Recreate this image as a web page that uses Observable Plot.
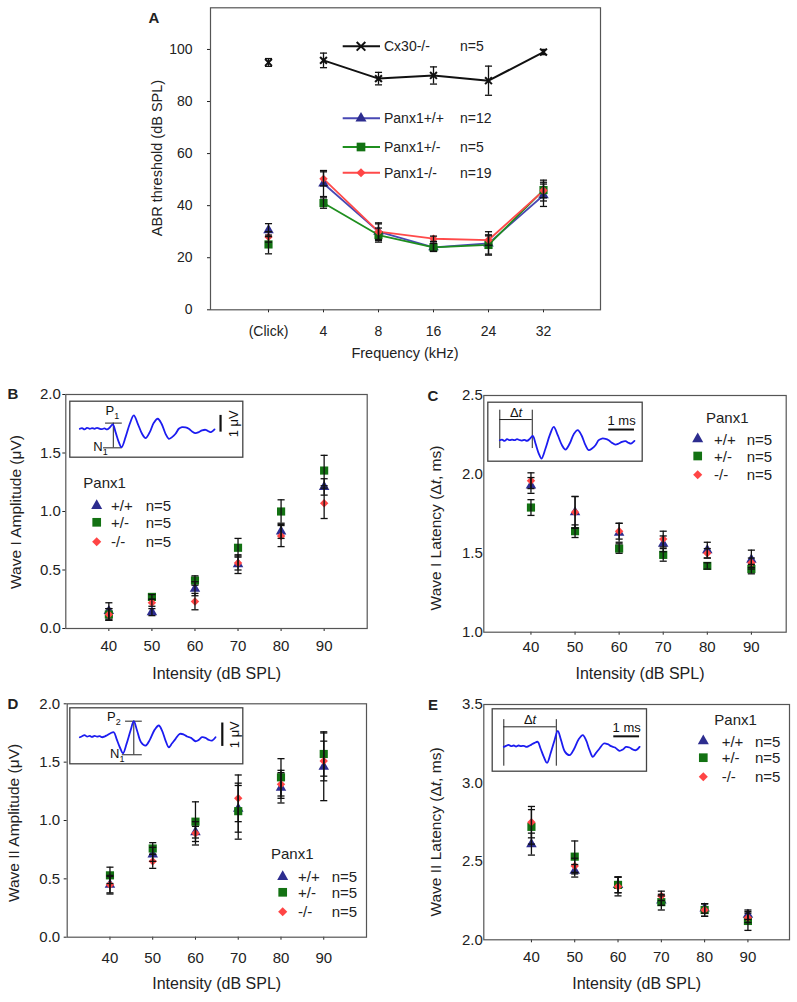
<!DOCTYPE html>
<html><head><meta charset="utf-8">
<script src="https://cdn.jsdelivr.net/npm/d3@7"></script>
<script src="https://cdn.jsdelivr.net/npm/@observablehq/plot@0.6"></script>
<style>
body{margin:0;background:#fff;}
#fig{position:relative;width:797px;height:1002px;overflow:hidden;background:#fff;}
#fig svg{position:absolute;left:0;top:0;overflow:visible;}
</style></head><body><div id="fig"></div>
<script>
// ---------------- DATA ----------------
// Panel A: ABR thresholds (dB SPL)
const freqLabels = ["(Click)", "4", "8", "16", "24", "32"];
const aYTicks = [0, 20, 40, 60, 80, 100];
const aGroupLabels = ["Cx30-/-", "Panx1+/+", "Panx1+/-", "Panx1-/-"];
const aNLabels = ["n=5", "n=12", "n=5", "n=19"];
const aCx30 = [95, 95.8, 88.8, 90, 88, 99];
const aCx30Err = [1.5, 2.8, 2.4, 3.3, 5.6, 1];
const aWT = [30.6, 48.5, 30, 24, 25.5, 44];
const aWTErr = [2.5, 5, 3, 1.6, 4.5, 4.3];
const aHet = [25.1, 41, 28.7, 24, 24.9, 46];
const aHetErr = [3.6, 2, 2.7, 1.5, 3.5, 3];
const aKO = [28, 50.3, 30, 27.3, 26.8, 45.8];
const aKOErr = [2, 2.7, 3.4, 1, 2, 4];

// Panels B–E: x = intensity (dB SPL)
const intensity = [40, 50, 60, 70, 80, 90];
const genoLabels = ["+/+", "+/-", "-/-"];
const genoN = ["n=5", "n=5", "n=5"];

// B: Wave I amplitude (uV)
const bWT = [0.15, 0.14, 0.34, 0.55, 0.83, 1.21];
const bWTErr = [0.07, 0.03, 0.06, 0.08, 0.06, 0.07];
const bHet = [0.12, 0.27, 0.41, 0.69, 1.0, 1.35];
const bHetErr = [0.05, 0.02, 0.04, 0.08, 0.1, 0.13];
const bKO = [0.12, 0.22, 0.23, 0.56, 0.79, 1.07];
const bKOErr = [0.05, 0.03, 0.07, 0.06, 0.09, 0.13];

// C: Wave I latency (ms)
const cWT = [1.93, 1.76, 1.63, 1.56, 1.52, 1.46];
const cWTErr = [0.05, 0.1, 0.06, 0.05, 0.05, 0.06];
const cHet = [1.79, 1.64, 1.53, 1.49, 1.42, 1.40];
const cHetErr = [0.05, 0.04, 0.03, 0.04, 0.02, 0.03];
const cKO = [1.96, 1.76, 1.64, 1.59, 1.50, 1.44];
const cKOErr = [0.05, 0.1, 0.05, 0.05, 0.03, 0.03];

// D: Wave II amplitude (uV)
const dWT = [0.45, 0.71, 0.9, 1.1, 1.28, 1.46];
const dWTErr = [0.07, 0.06, 0.05, 0.2, 0.13, 0.29];
const dHet = [0.53, 0.76, 0.99, 1.08, 1.37, 1.57];
const dHetErr = [0.07, 0.05, 0.17, 0.24, 0.16, 0.19];
const dKO = [0.45, 0.65, 0.89, 1.19, 1.31, 1.51];
const dKOErr = [0.08, 0.06, 0.1, 0.2, 0.12, 0.17];

// E: Wave II latency (ms)
const eWT = [2.61, 2.44, 2.35, 2.25, 2.2, 2.16];
const eWTErr = [0.07, 0.04, 0.05, 0.03, 0.03, 0.03];
const eHet = [2.72, 2.53, 2.35, 2.24, 2.19, 2.12];
const eHetErr = [0.11, 0.1, 0.05, 0.05, 0.04, 0.06];
const eKO = [2.75, 2.47, 2.34, 2.28, 2.19, 2.14];
const eKOErr = [0.1, 0.05, 0.06, 0.03, 0.04, 0.03];

// Inset waveforms (time in ms, voltage in uV)
const waveI_t = [0,0.09,0.19,0.29,0.4,0.49,0.59,0.69,0.8,0.89,0.99,1.09,1.2,1.32,1.43,1.56,1.67,1.83,2.0,2.16,2.32,2.49,2.63,2.8,2.96,3.12,3.27,3.43,3.56,3.69,3.83,3.96,4.09,4.23,4.36,4.49,4.63,4.76,4.89,5.03,5.16,5.25,5.39];
const waveI_v = [0,0.04,-0.04,0.06,0,0.04,0,0.06,0,-0.02,0.02,-0.04,0.08,0.26,-0.2,-0.8,-1.1,-0.5,0.3,0.8,0.3,-0.3,-0.56,-0.2,0.36,0.6,0.3,-0.3,-0.6,-0.5,-0.3,0,0.1,0.08,0,-0.16,-0.26,-0.2,-0.1,-0.06,-0.16,-0.2,-0.04];
const waveII_t = [0,0.09,0.19,0.29,0.4,0.49,0.59,0.69,0.8,0.89,0.99,1.09,1.23,1.36,1.47,1.6,1.73,1.87,2.03,2.16,2.29,2.45,2.63,2.8,2.99,3.16,3.29,3.43,3.56,3.69,3.83,4.0,4.16,4.29,4.45,4.63,4.76,4.89,5.03,5.16,5.29,5.43];
const waveII_v = [0,0.06,0.12,0.04,0.08,0.02,0.08,0.04,0.06,0,0.04,0.12,0.24,0.3,-0.1,-0.6,-0.96,-0.4,0.4,0.96,0.4,-0.3,-0.5,-0.16,0.44,0.7,0.4,-0.2,-0.6,-0.36,-0.1,0.2,0.16,0.04,-0.04,-0.24,-0.16,0,-0.04,-0.16,-0.2,0];

// Inset annotation values
const bPeakLevels = [0.34, -1.14];      // P1, N1 (uV)
const bPeakSpans = [[1.03, 1.7], [0.95, 1.7]];
const bPeakT = 1.34;
const bScaleBar = [5.63, -0.2, 0.8];   // t, v1, v2 (1 uV)
const dPeakLevels = [0.96, -1.05];     // P2, N1
const dPeakSpans = [[1.83, 2.5], [1.7, 2.5]];
const dPeakT = 2.16;
const dScaleBar = [5.7, -0.55, 0.85];
const cDelta = [0, 1.3];               // onset, P1 time (ms)
const eDelta = [0, 2.1];               // onset, P2 time (ms)
const msBar = 1.03;                    // 1 ms bar length

// ---------------- STYLE ----------------
const FONT = '"Liberation Sans", Arial, Helvetica, sans-serif';
const W = 797, H = 1002;
const ST = {
  cx:  {symbol: "times",    color: "#111111", line: "#111111", r: 3.2, lr: 4},
  wt:  {symbol: "triangle", color: "#2d2d8f", line: "#4848b4", r: 3.9, lr: 4.1},
  het: {symbol: "square",   color: "#137213", line: "#1f8f1f", r: 4.6, lr: 4.9},
  ko:  {symbol: "diamond2", color: "#ff4545", line: "#ff4a4a", r: 3.8, lr: 4.1}
};
const WAVE = "#1c1cf0";
const capSym = {draw(ctx, size) { const w = Math.sqrt(size) / 2; ctx.moveTo(-w, 0); ctx.lineTo(w, 0); }};
const d3Sym = {triangle: d3.symbolTriangle, square: d3.symbolSquare, diamond2: d3.symbolDiamond2, times: d3.symbolTimes};

const fig = document.getElementById("fig");
function add(node) { fig.appendChild(node); return node; }

function rowsOf(xs, vals, errs) { return xs.map((x, i) => ({x, y: vals[i], e: errs[i]})); }

function errPanel(cfg) {
  const lines = [], dots = [], bars = [];
  cfg.series.forEach(s => {
    const rows = rowsOf(cfg.xs, s.v, s.e);
    if (cfg.withLines) {
      lines.push(Plot.line(rows.filter(d => d.x !== "(Click)"), {x: "x", y: "y", stroke: s.st.line, strokeWidth: s.st === ST.cx ? 2 : 1.8}));
    }
    if (s.st.symbol === "times") {
      dots.push(Plot.dot(rows, {x: "x", y: "y", symbol: "times", stroke: s.st.color, fill: "none", strokeWidth: 2, r: s.st.r}));
    } else {
      dots.push(Plot.dot(rows, {x: "x", y: "y", symbol: s.st.symbol, fill: s.st.color, stroke: "none", r: s.st.r}));
    }
    bars.push(Plot.ruleX(rows, {x: "x", y1: d => d.y - d.e, y2: d => d.y + d.e, stroke: "#111", strokeWidth: 1.3}));
    bars.push(Plot.dot(rows, {x: "x", y: d => d.y + d.e, symbol: capSym, stroke: "#111", fill: "none", strokeWidth: 1.3, r: 4}));
    bars.push(Plot.dot(rows, {x: "x", y: d => d.y - d.e, symbol: capSym, stroke: "#111", fill: "none", strokeWidth: 1.3, r: 4}));
  });
  const f = cfg.frame;
  return Plot.plot({
    width: W, height: H,
    marginLeft: f[0], marginTop: f[1], marginRight: W - f[2], marginBottom: H - f[3],
    style: {fontFamily: FONT, fontSize: cfg.fontSize, color: "#222", background: "none", overflow: "visible"},
    x: cfg.x, y: cfg.y,
    marks: [Plot.frame({stroke: "#555", strokeWidth: 1.2}), ...lines, ...dots, ...bars]
  });
}

// Panel A
add(errPanel({
  frame: [210, 7.3, 600, 309.3], fontSize: "14px", withLines: true, xs: freqLabels,
  x: {type: "point", domain: freqLabels, padding: 1, tickSize: 3, tickPadding: 13, label: null},
  y: {domain: [0, 116], ticks: aYTicks, tickSize: 3, tickPadding: 15, label: null},
  series: [
    {v: aCx30, e: aCx30Err, st: ST.cx},
    {v: aWT, e: aWTErr, st: ST.wt},
    {v: aHet, e: aHetErr, st: ST.het},
    {v: aKO, e: aKOErr, st: ST.ko}
  ]
}));

const fmt1 = d3.format(".1f");
// Panel B
add(errPanel({
  frame: [65.3, 394, 366.7, 628], fontSize: "15px", xs: intensity,
  x: {domain: [30, 100], ticks: intensity, tickSize: 3, tickPadding: 9, label: null},
  y: {domain: [0, 2], ticks: [0, 0.5, 1, 1.5, 2], tickFormat: fmt1, tickSize: 3, tickPadding: 2, label: null},
  series: [{v: bWT, e: bWTErr, st: ST.wt}, {v: bHet, e: bHetErr, st: ST.het}, {v: bKO, e: bKOErr, st: ST.ko}]
}));
// Panel C
add(errPanel({
  frame: [483.3, 395, 785.7, 631.7], fontSize: "15px", xs: intensity,
  x: {domain: [29.3, 97.9], ticks: intensity, tickSize: 3, tickPadding: 6, label: null},
  y: {domain: [1, 2.5], ticks: [1, 1.5, 2, 2.5], tickFormat: fmt1, tickSize: 0, tickPadding: 1, label: null},
  series: [{v: cWT, e: cWTErr, st: ST.wt}, {v: cHet, e: cHetErr, st: ST.het}, {v: cKO, e: cKOErr, st: ST.ko}]
}));
// Panel D
add(errPanel({
  frame: [66.7, 703.3, 366, 936.7], fontSize: "15px", xs: intensity,
  x: {domain: [30, 100], ticks: intensity, tickSize: 3, tickPadding: 12, label: null},
  y: {domain: [0, 2], ticks: [0, 0.5, 1, 1.5, 2], tickFormat: fmt1, tickSize: 3, tickPadding: 4, label: null},
  series: [{v: dWT, e: dWTErr, st: ST.wt}, {v: dHet, e: dHetErr, st: ST.het}, {v: dKO, e: dKOErr, st: ST.ko}]
}));
// Panel E
add(errPanel({
  frame: [483.3, 704, 789, 939.3], fontSize: "15px", xs: intensity,
  x: {domain: [29, 99.6], ticks: intensity, tickSize: 3, tickPadding: 9, label: null},
  y: {domain: [2, 3.5], ticks: [2, 2.5, 3, 3.5], tickFormat: fmt1, tickSize: 0, tickPadding: 1, label: null},
  series: [{v: eWT, e: eWTErr, st: ST.wt}, {v: eHet, e: eHetErr, st: ST.het}, {v: eKO, e: eKOErr, st: ST.ko}]
}));

// ---------------- INSETS ----------------
function insetPlot(box, xd, yd, ts, vs, extra) {
  const wave = ts.map((t, i) => ({t, v: vs[i]}));
  return Plot.plot({
    width: W, height: H,
    marginLeft: box[0], marginTop: box[1], marginRight: W - box[2], marginBottom: H - box[3],
    style: {fontFamily: FONT, fontSize: "13px", color: "#111", background: "none", overflow: "visible"},
    x: {domain: xd, axis: null}, y: {domain: yd, axis: null},
    marks: [
      Plot.frame({stroke: "#444", strokeWidth: 1.3, fill: "white"}),
      ...extra,
      Plot.line(wave, {x: "t", y: "v", stroke: WAVE, strokeWidth: 1.8, curve: "catmull-rom"})
    ]
  });
}
function ampMarks(levels, spans, tPk, bar, labels, labelPos) {
  return [
    Plot.ruleY(levels, {y: d => d, x1: (d, i) => spans[i][0], x2: (d, i) => spans[i][1], stroke: "#222", strokeWidth: 1}),
    Plot.ruleX([tPk], {x: d => d, y1: levels[1], y2: levels[0], stroke: "#222", strokeWidth: 1}),
    Plot.ruleX([bar[0]], {x: d => d, y1: bar[1], y2: bar[2], stroke: "#111", strokeWidth: 2.2}),
    Plot.text(labels, {x: (d, i) => labelPos[i][0], y: (d, i) => labelPos[i][1], text: d => d, textAnchor: (d, i) => labelPos[i][2], fill: "#111", fontSize: 13}),
    Plot.text(["1 μV"], {x: bar[0] + 0.52, y: (bar[1] + bar[2]) / 2, text: d => d, rotate: -90, fill: "#111", fontSize: 13})
  ];
}
function latMarks(delta, top, bottom, level, barT, barV) {
  return [
    Plot.ruleX(delta, {x: d => d, y1: bottom, y2: top, stroke: "#222", strokeWidth: 1}),
    Plot.ruleY([level], {y: d => d, x1: delta[0], x2: delta[1], stroke: "#222", strokeWidth: 1}),
    Plot.text(["Δt"], {x: (delta[0] + delta[1]) / 2, y: level, dy: -7, text: d => d, fill: "#111", fontSize: 13}),
    Plot.ruleY([barV], {y: d => d, x1: barT, x2: barT + msBar, stroke: "#111", strokeWidth: 2}),
    Plot.text(["1 ms"], {x: barT + msBar / 2, y: barV, dy: -9, text: d => d, fill: "#111", fontSize: 13})
  ];
}

add(insetPlot([69.3, 400.7, 242.3, 456.7], [-0.4, 6.52], [-1.7, 1.65], waveI_t, waveI_v,
  ampMarks(bPeakLevels, bPeakSpans, bPeakT, bScaleBar, ["P1", "N1"], [[1.3, 1.1, "middle"], [0.83, -1.1, "end"]])));
add(insetPlot([487.3, 401.7, 641.7, 460.7], [-0.48, 5.7], [-1.26, 2.28], waveI_t, waveI_v,
  latMarks(cDelta, 1.8, -0.5, 1.24, 4.36, 0.64)));
add(insetPlot([69.3, 707.3, 242.3, 763.3], [-0.4, 6.52], [-1.59, 1.76], waveII_t, waveII_v,
  ampMarks(dPeakLevels, dPeakSpans, dPeakT, dScaleBar, ["P2", "N1"], [[1.36, 1.2, "middle"], [1.5, -1.0, "end"]])));
add(insetPlot([491.7, 708.3, 646, 770.7], [-0.464, 5.708], [-1.46, 2.28], waveII_t, waveII_v,
  latMarks(eDelta, 1.63, -1.16, 1.2, 4.4, 0.63)));

// subscripts and italic t in inset labels
fig.querySelectorAll("text").forEach(t => {
  const s = t.textContent;
  if (/^[PN][12]$/.test(s)) {
    t.textContent = s[0];
    const ts = document.createElementNS("http://www.w3.org/2000/svg", "tspan");
    ts.setAttribute("font-size", "9"); ts.setAttribute("dy", "4"); ts.textContent = s[1];
    t.appendChild(ts);
  } else if (s === "Δt") {
    t.textContent = "Δ";
    const ts = document.createElementNS("http://www.w3.org/2000/svg", "tspan");
    ts.setAttribute("font-style", "italic"); ts.textContent = "t";
    t.appendChild(ts);
  }
});

// ---------------- OVERLAY: titles, labels, legends ----------------
const ov = d3.select(fig).append("svg").attr("width", W).attr("height", H)
  .style("font-family", FONT).style("fill", "#222");

function txt(x, y, s, o = {}) {
  const t = ov.append("text").attr("x", x).attr("y", y).attr("dominant-baseline", "central")
    .attr("font-size", o.size || 15).attr("text-anchor", o.anchor || "start").attr("fill", "#222");
  if (o.bold) t.attr("font-weight", "bold");
  if (o.rotate) t.attr("transform", `rotate(-90 ${x} ${y})`);
  if (Array.isArray(s)) s.forEach(p => t.append("tspan").attr("font-style", p.italic ? "italic" : null).text(p.t));
  else t.text(s);
  return t;
}
// panel letters
txt(154, 17, "A", {bold: true, size: 15, anchor: "middle"});
txt(13, 393, "B", {bold: true, size: 15, anchor: "middle"});
txt(433, 395, "C", {bold: true, size: 15, anchor: "middle"});
txt(13, 703, "D", {bold: true, size: 15, anchor: "middle"});
txt(433, 704, "E", {bold: true, size: 15, anchor: "middle"});
// axis titles
txt(157, 158, "ABR threshold (dB SPL)", {size: 14.5, anchor: "middle", rotate: true});
txt(405, 353, "Frequency (kHz)", {size: 14.5, anchor: "middle"});
txt(15, 512, "Wave I Amplitude (μV)", {size: 15.5, anchor: "middle", rotate: true});
txt(216.7, 673, "Intensity (dB SPL)", {size: 16, anchor: "middle"});
txt(435, 528, [{t: "Wave I Latency (Δ"}, {t: "t", italic: true}, {t: ", ms)"}], {size: 15.5, anchor: "middle", rotate: true});
txt(640, 673, "Intensity (dB SPL)", {size: 16, anchor: "middle"});
txt(13.3, 823, "Wave II Amplitude (μV)", {size: 15.5, anchor: "middle", rotate: true});
txt(216.7, 983, "Intensity (dB SPL)", {size: 16, anchor: "middle"});
txt(435, 832, [{t: "Wave II Latency (Δ"}, {t: "t", italic: true}, {t: ", ms)"}], {size: 15.5, anchor: "middle", rotate: true});
txt(636.7, 983, "Intensity (dB SPL)", {size: 16, anchor: "middle"});

function sym(x, y, st, r) {
  const p = ov.append("path").attr("d", d3.symbol(d3Sym[st.symbol], Math.PI * r * r)()).attr("transform", `translate(${x},${y})`);
  if (st.symbol === "times") p.attr("fill", "none").attr("stroke", st.color).attr("stroke-width", 2);
  else p.attr("fill", st.color);
}
// Legend A
const legA = {x1: 342.7, x2: 380, sx: 361, tx: 384, nx: 460, ys: [46.3, 118.3, 147, 172.7]};
[ST.cx, ST.wt, ST.het, ST.ko].forEach((st, i) => {
  const y = legA.ys[i];
  ov.append("line").attr("x1", legA.x1).attr("x2", legA.x2).attr("y1", y).attr("y2", y).attr("stroke", st.line).attr("stroke-width", 2);
  sym(legA.sx, y, st, st.lr);
  txt(legA.tx, y, aGroupLabels[i], {size: 14});
  txt(legA.nx, y, aNLabels[i], {size: 14});
});
// Legends B-E
function genoLegend(L) {
  txt(L.tx0, L.ty, "Panx1", {size: 15});
  [ST.wt, ST.het, ST.ko].forEach((st, i) => {
    sym(L.sx, L.ys[i], st, st.lr);
    txt(L.lx, L.ys[i], genoLabels[i], {size: 15});
    txt(L.nx, L.ys[i], genoN[i], {size: 15});
  });
}
genoLegend({tx0: 83.3, ty: 482.7, sx: 96.7, lx: 111, nx: 145.7, ys: [505.7, 522.3, 541.7]});
genoLegend({tx0: 706, ty: 417, sx: 697.7, lx: 714, nx: 746.7, ys: [439, 456, 474.7]});
genoLegend({tx0: 271, ty: 853.3, sx: 282.7, lx: 298, nx: 331.7, ys: [876.7, 892.3, 911.7]});
genoLegend({tx0: 714.3, ty: 719.3, sx: 703.3, lx: 721.7, nx: 755, ys: [741, 757.7, 776.7]});
</script></body></html>
